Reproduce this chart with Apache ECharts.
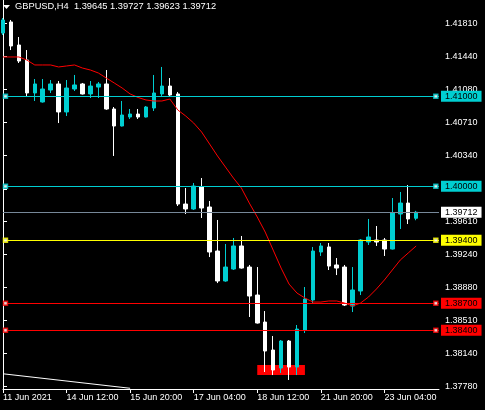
<!DOCTYPE html>
<html><head><meta charset="utf-8">
<script src="https://cdn.jsdelivr.net/npm/echarts@6/dist/echarts.min.js"></script>
<style>html,body{margin:0;padding:0;background:#000;}#c{width:485px;height:410px;}</style>
</head><body><div id="c"></div>
<script>
const symbolName = 'GBPUSD,H4';
const opens  = [1.41703,1.41826,1.41570,1.41403,1.41037,1.40937,1.41070,1.41137,1.40826,1.41081,1.41137,1.41026,1.41103,1.41137,1.40859,1.40670,1.40770,1.40803,1.40770,1.40870,1.41026,1.41114,1.41026,1.39803,1.39748,1.39992,1.39770,1.39281,1.38948,1.39081,1.39337,1.39103,1.38792,1.38492,1.38181,1.37981,1.38281,1.37992,1.38403,1.38737,1.39270,1.39326,1.39126,1.39103,1.38670,1.38837,1.39381,1.39403,1.39403,1.39303,1.39692,1.39814,1.39645];
const closes = [1.41848,1.41559,1.41392,1.41037,1.41137,1.41081,1.41137,1.40826,1.41092,1.41126,1.41026,1.41114,1.41137,1.40859,1.40670,1.40792,1.40803,1.40770,1.40881,1.41037,1.41114,1.41014,1.39803,1.39748,1.40003,1.39759,1.39270,1.38948,1.39103,1.39337,1.39092,1.38781,1.38481,1.38170,1.37959,1.38281,1.37992,1.38414,1.38748,1.39281,1.39337,1.39114,1.39092,1.38681,1.38848,1.39403,1.39437,1.39381,1.39303,1.39703,1.39814,1.39637,1.39712];
const lows   = [1.41681,1.41514,1.41370,1.40992,1.40948,1.40930,1.41037,1.40703,1.40781,1.41059,1.41020,1.40981,1.40981,1.40850,1.40337,1.40665,1.40748,1.40748,1.40765,1.40837,1.40992,1.40992,1.39781,1.39692,1.39737,1.39648,1.39214,1.38925,1.38940,1.39070,1.39085,1.38548,1.38475,1.37937,1.37903,1.37926,1.37848,1.37903,1.38370,1.38703,1.39226,1.39070,1.39014,1.38670,1.38603,1.38792,1.39348,1.39337,1.39226,1.39298,1.39526,1.39581,1.39623];
const highs  = [1.41870,1.41848,1.41659,1.41514,1.41192,1.41192,1.41181,1.41170,1.41181,1.41237,1.41148,1.41170,1.41159,1.41292,1.40881,1.40948,1.40859,1.40859,1.40892,1.41237,1.41326,1.41203,1.41048,1.39981,1.40037,1.40092,1.39837,1.39626,1.39359,1.39426,1.39448,1.39126,1.39103,1.38614,1.38337,1.38292,1.38292,1.38459,1.38881,1.39326,1.39370,1.39370,1.39203,1.39126,1.39103,1.39414,1.39637,1.39559,1.39426,1.39870,1.39937,1.40014,1.39727];
const maValues = [1.41437,1.41437,1.41437,1.41403,1.41348,1.41348,1.41348,1.41326,1.41337,1.41348,1.41314,1.41292,1.41259,1.41203,1.41148,1.41092,1.41026,1.40987,1.40959,1.40948,1.40948,1.40970,1.40848,1.40781,1.40703,1.40603,1.40470,1.40337,1.40214,1.40092,1.39981,1.39814,1.39659,1.39492,1.39292,1.39092,1.38914,1.38814,1.38759,1.38714,1.38714,1.38726,1.38726,1.38703,1.38670,1.38703,1.38770,1.38859,1.38959,1.39070,1.39181,1.39259,1.39337];
const timeLabels = ['11 Jun 2021','14 Jun 12:00','15 Jun 20:00','17 Jun 04:00','18 Jun 12:00','21 Jun 20:00','23 Jun 04:00'];
const timeLabelBars = [0,8,16,24,32,40,48];
const priceTicks = [1.37780,1.38140,1.38510,1.38880,1.39240,1.39610,1.39970,1.40340,1.40710,1.41080,1.41440,1.41810];
const levelPrices = [1.41000,1.40000,1.39400,1.38700,1.38400];
const levelColors = ['#00CED1','#00CED1','#FFFF00','#FF0000','#FF0000'];
const trendBars = [0,16];
const trendPrices = [1.37917,1.37756];
const boxBars = [32,38];
const boxPrices = [1.38014,1.37903];

const X_MAX = 54.875, Y_MIN = 1.37748, Y_MAX = 1.42070;
const FONT = 'Liberation Sans';
const n = opens.length;
const last = n - 1;
const candleData = opens.map((o, i) => [i, o, closes[i], lows[i], highs[i]]);
const maData = maValues.map((v, i) => [i, v]);
const bid = closes[last];

const markLines = levelPrices.map((p, k) => ({
  yAxis: p,
  lineStyle: { color: levelColors[k], width: 1, type: 'solid' },
  label: { backgroundColor: levelColors[k] }
}));
markLines.push({ yAxis: bid, lineStyle: { color: '#778899', width: 1, type: 'solid' }, label: { backgroundColor: '#ffffff' } });

const endMarkers = [];
levelPrices.forEach((p, k) => {
  [0.31, X_MAX - 0.4].forEach(x => endMarkers.push({ value: [x, p], itemStyle: { color: '#fff', borderColor: levelColors[k], borderWidth: 1.5 } }));
});

const chart = echarts.init(document.getElementById('c'), null, { renderer: 'canvas' });
chart.setOption({
  animation: false,
  backgroundColor: '#000000',
  textStyle: { fontFamily: FONT },
  title: {
    text: symbolName + '  ' + [opens[last], highs[last], lows[last], closes[last]].map(v => v.toFixed(5)).join(' '),
    left: 15, top: 2, padding: 0,
    textStyle: { color: '#ffffff', fontSize: 9.3, fontWeight: 'normal', fontFamily: FONT }
  },
  graphic: [{ type: 'polygon', shape: { points: [[3, 5], [10, 5], [6.5, 9]] }, style: { fill: '#ffffff' } }],
  grid: { left: 0, right: 46, top: 0, bottom: 21 },
  xAxis: {
    type: 'value', min: 0, max: X_MAX, interval: 8,
    axisLine: { show: true, lineStyle: { color: '#ffffff', width: 1 } },
    axisTick: { show: true, length: 4, lineStyle: { color: '#ffffff' } },
    splitLine: { show: false },
    axisLabel: {
      color: '#ffffff', fontSize: 9, fontFamily: FONT, align: 'left', margin: 4,
      showMaxLabel: false,
      formatter: v => { const k = timeLabelBars.indexOf(Math.round(v)); return k >= 0 ? timeLabels[k] : ''; }
    }
  },
  yAxis: {
    type: 'value', position: 'right', min: Y_MIN, max: Y_MAX, scale: true,
    axisLine: { show: true, lineStyle: { color: '#ffffff', width: 1 } },
    axisTick: { show: true, length: 4, lineStyle: { color: '#ffffff' }, customValues: priceTicks },
    splitLine: { show: false },
    axisLabel: { color: '#ffffff', fontSize: 9, fontFamily: FONT, margin: 6, customValues: priceTicks, formatter: v => v.toFixed(5) }
  },
  series: [
    {
      type: 'candlestick',
      data: candleData,
      barWidth: 4,
      itemStyle: { color: '#00CED1', color0: '#ffffff', borderColor: '#00CED1', borderColor0: '#ffffff', borderWidth: 1 },
      silent: true,
      z: 3,
      markArea: {
        silent: true,
        itemStyle: { color: '#FF0000', opacity: 1 },
        data: [[{ xAxis: boxBars[0], yAxis: boxPrices[0] }, { xAxis: boxBars[1], yAxis: boxPrices[1] }]]
      },
      markLine: {
        silent: true, symbol: 'none', animation: false, precision: 5,
        label: {
          show: true, position: 'end', distance: 2, color: '#000000', fontSize: 9, fontFamily: FONT,
          padding: [1, 4, 0, 4], lineHeight: 10, formatter: p => Number(p.value).toFixed(5)
        },
        data: markLines
      }
    },
    {
      type: 'line', data: maData, symbol: 'none', silent: true, z: 4,
      lineStyle: { color: '#FF0000', width: 1 }
    },
    {
      type: 'line', data: trendBars.map((b, i) => [b, trendPrices[i]]), symbol: 'none', silent: true,
      lineStyle: { color: '#ffffff', width: 1 }
    },
    {
      type: 'scatter', data: endMarkers, symbol: 'rect', symbolSize: 4, silent: true, z: 5
    }
  ]
});
</script></body></html>
